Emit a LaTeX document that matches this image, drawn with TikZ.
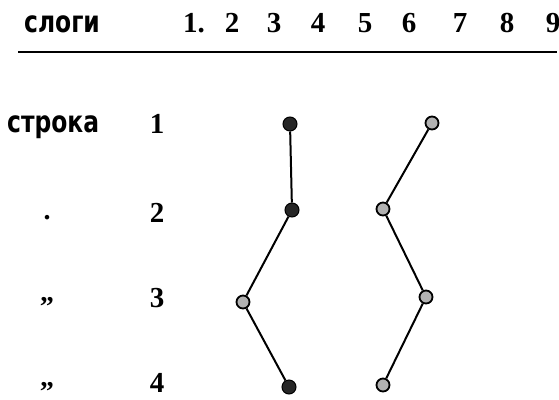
\documentclass[tikz,border=0pt]{standalone}
\usepackage{fontspec}
\setmainfont{Liberation Serif}
\newfontfamily\cyrfont{DejaVu Sans}
\begin{document}
\begin{tikzpicture}[x=1pt,y=-1pt,
  digit/.style={anchor=base,inner sep=0pt,font=\fontsize{29}{31}\selectfont\bfseries},
  word/.style={anchor=base west,inner sep=0pt,font=\fontsize{30}{32}\selectfont\cyrfont\bfseries},
  ditto/.style={anchor=base,inner sep=0pt,font=\fontsize{28}{30}\selectfont\bfseries},
  solid dot/.style={circle,minimum size=14pt,inner sep=0pt,fill=black!85,draw=black,line width=1pt},
  open dot/.style={circle,minimum size=13pt,inner sep=0pt,fill=gray!60,draw=black,line width=1.8pt},
  link/.style={line width=2pt,black}]
\useasboundingbox (0,0) rectangle (559,399);
% header
\node[word] (hw) at (24,32) {\scalebox{0.78}[1]{слоги}};
\node[digit,anchor=base west] (h1) at (183,32) {1.};
\node[digit] (h2) at (232,32) {2};
\node[digit] (h3) at (274,32) {3};
\node[digit] (h4) at (318,32) {4};
\node[digit] (h5) at (365,32) {5};
\node[digit] (h6) at (409,32) {6};
\node[digit] (h7) at (460,32) {7};
\node[digit] (h8) at (507,32) {8};
\node[digit] (h9) at (553,32) {9};
\coordinate (rl) at (18,52);
\coordinate (rr) at (557,52);
\draw[line width=2.2pt] (rl) -- (rr);
% row labels
\node[word] (rw) at (7,132) {\scalebox{0.78}[1]{строка}};
\node[digit] (r1) at (157,133) {1};
\node[digit] (r2) at (157,222) {2};
\node[digit] (r3) at (157,307) {3};
\node[digit] (r4) at (157,392) {4};
\node[ditto] (d2) at (47,219) {.};
\node[ditto] (d3) at (47,301) {„};
\node[ditto] (d4) at (47,386) {„};
% dots
\node[solid dot] (a1) at (290,124) {};
\node[solid dot] (a2) at (292,210) {};
\node[open dot]  (a3) at (243,302) {};
\node[solid dot] (a4) at (289,387) {};
\node[open dot]  (b1) at (432,123) {};
\node[open dot]  (b2) at (383,209) {};
\node[open dot]  (b3) at (426,297) {};
\node[open dot]  (b4) at (383,385) {};
\draw[link] (a1) -- (a2);
\draw[link] (a2) -- (a3);
\draw[link] (a3) -- (a4);
\draw[link] (b1) -- (b2);
\draw[link] (b2) -- (b3);
\draw[link] (b3) -- (b4);
\end{tikzpicture}
\end{document}
